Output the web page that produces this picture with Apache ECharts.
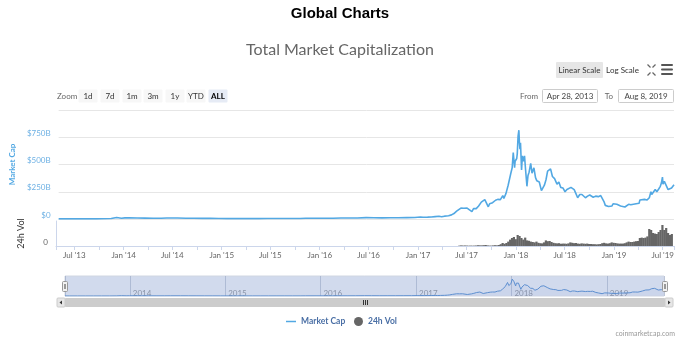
<!DOCTYPE html>
<html><head><meta charset="utf-8">
<script src="https://cdn.jsdelivr.net/npm/echarts@6/dist/echarts.min.js"></script>
<style>html,body{margin:0;padding:0;background:#fff}#c{width:680px;height:344px}</style>
</head><body><div id="c"></div>
<script>
// ---- data (market cap and 24h volume in billions USD) ----
const capDates = ['2013-04-28','2013-05-15','2013-06-15','2013-07-15','2013-08-15','2013-09-15','2013-10-15','2013-11-10','2013-11-30','2013-12-05','2013-12-18','2013-12-31',
'2014-01-15','2014-02-15','2014-03-15','2014-04-15','2014-05-15','2014-06-05','2014-07-15','2014-08-15','2014-09-15','2014-10-15','2014-11-15','2014-12-15',
'2015-01-15','2015-02-15','2015-03-15','2015-04-15','2015-05-15','2015-06-15','2015-07-15','2015-08-15','2015-09-15','2015-10-15','2015-11-05','2015-12-15',
'2016-01-15','2016-02-15','2016-03-15','2016-04-15','2016-05-15','2016-06-17','2016-07-15','2016-08-15','2016-09-15','2016-10-15','2016-11-15','2016-12-15',
'2017-01-05','2017-01-15','2017-02-01','2017-02-15','2017-03-01','2017-03-15','2017-03-25','2017-04-05','2017-04-20','2017-05-01','2017-05-10','2017-05-20','2017-05-25','2017-05-27',
'2017-06-05','2017-06-12','2017-06-16','2017-06-20','2017-06-28','2017-07-05','2017-07-16','2017-07-22','2017-08-01','2017-08-10','2017-08-20','2017-08-27',
'2017-09-02','2017-09-15','2017-09-20','2017-10-01','2017-10-12','2017-10-20','2017-10-30','2017-11-08','2017-11-12','2017-11-20','2017-11-28',
'2017-12-01','2017-12-08','2017-12-13','2017-12-17','2017-12-22','2017-12-24','2017-12-30',
'2018-01-01','2018-01-04','2018-01-07','2018-01-09','2018-01-11','2018-01-13','2018-01-17','2018-01-20','2018-01-24','2018-01-28',
'2018-02-01','2018-02-06','2018-02-10','2018-02-14','2018-02-20','2018-02-25','2018-03-04','2018-03-10','2018-03-15','2018-03-20','2018-03-24',
'2018-04-01','2018-04-06','2018-04-12','2018-04-18','2018-04-24','2018-05-05','2018-05-12','2018-05-20','2018-05-29',
'2018-06-05','2018-06-12','2018-06-20','2018-06-28','2018-07-05','2018-07-12','2018-07-20','2018-07-25',
'2018-08-01','2018-08-08','2018-08-14','2018-08-22','2018-08-30','2018-09-05','2018-09-12','2018-09-20','2018-09-28',
'2018-10-05','2018-10-11','2018-10-20','2018-10-30','2018-11-08','2018-11-14','2018-11-20','2018-11-25',
'2018-12-01','2018-12-07','2018-12-14','2018-12-20','2018-12-24','2018-12-31',
'2019-01-07','2019-01-14','2019-01-21','2019-01-28','2019-02-06','2019-02-12','2019-02-20','2019-02-28','2019-03-10','2019-03-20','2019-03-31',
'2019-04-03','2019-04-10','2019-04-20','2019-04-30','2019-05-08','2019-05-14','2019-05-17','2019-05-22','2019-05-30',
'2019-06-05','2019-06-12','2019-06-18','2019-06-22','2019-06-26','2019-06-28','2019-07-03','2019-07-08','2019-07-10','2019-07-17','2019-07-24','2019-07-30','2019-08-04','2019-08-08'];
const capValues = [1.6,1.3,1.2,1.1,1.3,1.6,1.9,4.0,13.5,14.5,7.5,10.0,
11.0,8.5,8.0,6.5,6.8,9.0,8.5,7.2,6.5,5.6,5.4,4.8,
3.5,3.7,4.3,3.6,3.7,3.9,4.8,4.4,3.9,4.3,7.0,7.1,
6.9,7.4,8.8,8.6,9.2,12.8,11.9,10.4,10.9,11.2,12.6,13.8,
18,15.5,17,18.5,22,25,20,26,30,38,50,72,90,72,
100,115,98,112,100,102,68,95,95,120,155,165,
178,112,140,150,172,180,178,215,188,235,310,
300,420,470,610,470,530,555,
600,760,815,700,640,700,450,580,530,580,
450,300,400,430,510,420,470,380,350,360,340,
260,265,310,360,440,460,390,370,320,
340,290,285,250,270,255,290,300,
270,230,195,225,225,230,195,210,220,
220,200,210,205,215,200,160,125,
135,115,105,120,140,130,
135,120,120,115,110,120,135,130,135,140,145,
175,180,180,175,195,250,225,240,270,
250,275,300,330,385,320,345,330,340,270,275,285,290,315];

const volDates = ['2017-06-04','2017-06-11','2017-06-18','2017-06-25','2017-07-02','2017-07-09','2017-07-16','2017-07-23','2017-07-30',
'2017-08-06','2017-08-13','2017-08-20','2017-08-27','2017-09-03','2017-09-10','2017-09-17','2017-09-24',
'2017-10-01','2017-10-08','2017-10-15','2017-10-22','2017-10-29','2017-11-05','2017-11-12','2017-11-19','2017-11-26',
'2017-12-03','2017-12-10','2017-12-17','2017-12-24','2017-12-31',
'2018-01-07','2018-01-14','2018-01-21','2018-01-28','2018-02-04','2018-02-11','2018-02-18','2018-02-25',
'2018-03-04','2018-03-11','2018-03-18','2018-03-25','2018-04-01','2018-04-08','2018-04-15','2018-04-22','2018-04-29',
'2018-05-06','2018-05-13','2018-05-20','2018-05-27','2018-06-03','2018-06-10','2018-06-17','2018-06-24',
'2018-07-01','2018-07-08','2018-07-15','2018-07-22','2018-07-29','2018-08-05','2018-08-12','2018-08-19','2018-08-26',
'2018-09-02','2018-09-09','2018-09-16','2018-09-23','2018-09-30','2018-10-07','2018-10-14','2018-10-21','2018-10-28',
'2018-11-04','2018-11-11','2018-11-18','2018-11-25','2018-12-02','2018-12-09','2018-12-16','2018-12-23','2018-12-30',
'2019-01-06','2019-01-13','2019-01-20','2019-01-27','2019-02-03','2019-02-10','2019-02-17','2019-02-24',
'2019-03-03','2019-03-10','2019-03-17','2019-03-24','2019-03-31','2019-04-07','2019-04-14','2019-04-21','2019-04-28',
'2019-05-05','2019-05-12','2019-05-19','2019-05-26','2019-06-02','2019-06-09','2019-06-16','2019-06-23','2019-06-30',
'2019-07-07','2019-07-14','2019-07-21','2019-07-28','2019-08-04'];
const volValues = [2,3,2,2.5,2,1.5,2,1.5,2,
2.5,4,3,3,4,5,3,2,
2,3,4,3,5,9,15,11,15,
22,32,40,45,34,
55,50,40,32,42,28,26,22,
20,18,22,16,14,13,18,28,24,
25,20,16,14,13,14,11,12,
12,11,13,18,16,14,15,12,11,
13,12,11,12,10,10,9,9,8,
9,10,14,16,13,12,14,18,16,
15,13,12,12,12,14,18,22,
20,20,22,24,25,40,42,40,42,
48,85,80,65,62,60,70,80,105,
80,90,65,55,60];

const yTickLabels = ['$0','$250B','$500B','$750B'];
const monthNames = ['Jan','Feb','Mar','Apr','May','Jun','Jul','Aug','Sep','Oct','Nov','Dec'];
const zoomButtons = ['1d','7d','1m','3m','1y','YTD','ALL'];

function ts(s){const p=s.split('-');return Date.UTC(+p[0],+p[1]-1,+p[2]);}
const capData = capDates.map((d,i)=>[ts(d),capValues[i]]);
const volData = volDates.map((d,i)=>[ts(d),volValues[i]]);
const xMin = ts('2013-04-28'), xMax = ts('2019-08-08');
const DAY = 86400000;

const F = 'Lato';
const BLUE = '#52a8e3';

function halfYearLabel(v){
  const d = new Date(v);
  if (d.getUTCDate()!==1) return '';
  const m = d.getUTCMonth();
  if (m!==0 && m!==6) return '';
  return monthNames[m]+" '"+String(d.getUTCFullYear()).slice(2);
}
function yearLabel(v){
  const d = new Date(v);
  if (d.getUTCDate()!==1 || d.getUTCMonth()!==0) return '';
  return String(d.getUTCFullYear());
}

function txt(x,y,t,st){return {type:'text',x:x,y:y,silent:true,z:10,style:Object.assign({text:t,fill:'#333',font:'8px '+F,align:'left',verticalAlign:'middle'},st||{})};}
function box(x,y,w,h,fill,stroke){return {type:'rect',silent:true,z:9,shape:{x:x,y:y,width:w,height:h,r:1},style:{fill:fill,stroke:stroke||null,lineWidth:1}};}
function seg(x1,y1,x2,y2,c,w){return {type:'line',silent:true,z:10,shape:{x1:x1,y1:y1,x2:x2,y2:y2},style:{stroke:c,lineWidth:w||1}};}

const graphics = [];
// scale buttons
graphics.push(box(556,62,47,16,'#e6e6e6'));
graphics.push(txt(579.5,70,'Linear Scale',{align:'center'}));
graphics.push(txt(622.5,70,'Log Scale',{align:'center'}));
// fullscreen icon
graphics.push(seg(647.5,64.5,650.5,67.5,'#666',1.2));
graphics.push(seg(655.5,64.5,652.5,67.5,'#666',1.2));
graphics.push(seg(647.5,75.5,650.5,72.5,'#666',1.2));
graphics.push(seg(655.5,75.5,652.5,72.5,'#666',1.2));
// hamburger
[64,68.5,73].forEach(y=>graphics.push(box(661,y,12,2,'#555')));
// zoom buttons
graphics.push(txt(57,96,'Zoom',{fill:'#666'}));
const zoomCenters = [88,110,132,153,175,196,218];
zoomButtons.forEach((b,i)=>{
  const sel = b==='ALL';
  graphics.push(box(zoomCenters[i]-9.5,89.5,19,13,sel?'#e6ebf5':'#f7f7f7'));
  graphics.push(txt(zoomCenters[i],96,b,{align:'center',fill:sel?'#000':'#333',font:(sel?'bold ':'')+'8px '+F}));
});
// From / To
graphics.push(txt(538,96,'From',{align:'right',fill:'#666'}));
graphics.push(box(542.5,89.5,55,13,'#fff','#cccccc'));
graphics.push(txt(570,96,'Apr 28, 2013',{align:'center',fill:'#444'}));
graphics.push(txt(609,96,'To',{align:'center',fill:'#666'}));
graphics.push(box(618.5,89.5,55,13,'#fff','#cccccc'));
graphics.push(txt(646,96,'Aug 8, 2019',{align:'center',fill:'#444'}));
// scrollbar
graphics.push(box(57,298,616,9,'#f2f2f2'));
graphics.push(box(65,298,600,9,'#cccccc'));
graphics.push(box(57,298,8,9,'#e6e6e6','#cccccc'));
graphics.push(box(665,298,8,9,'#e6e6e6','#cccccc'));
graphics.push({type:'polygon',silent:true,z:10,shape:{points:[[62,300.5],[62,304.5],[59.5,302.5]]},style:{fill:'#333'}});
graphics.push({type:'polygon',silent:true,z:10,shape:{points:[[668,300.5],[668,304.5],[670.5,302.5]]},style:{fill:'#333'}});
[363,365,367].forEach(x=>graphics.push(seg(x+0.5,300,x+0.5,305,'#333',1)));
// navigator handles
[[62.5],[662.5]].forEach(p=>{
  graphics.push(box(p[0],281.5,5,10,'#f2f2f2','#999999'));
  graphics.push(seg(p[0]+2,284,p[0]+2,289,'#999',1));
  graphics.push(seg(p[0]+3,284,p[0]+3,289,'#999',1));
});
// credits
graphics.push(txt(675,334,'coinmarketcap.com',{align:'right',fill:'#999',font:'7px '+F}));

const chart = echarts.init(document.getElementById('c'), null, {renderer:'canvas'});
chart.setOption({
  animation:false,
  useUTC:true,
  backgroundColor:'#fff',
  textStyle:{fontFamily:F},
  title:[
    {text:'Global Charts',left:'center',top:1,textStyle:{fontSize:15,fontWeight:'bold',color:'#000',fontFamily:'Liberation Sans'}},
    {text:'Total Market Capitalization',left:'center',top:37,textStyle:{fontSize:16,fontWeight:'normal',color:'#666',fontFamily:F}}
  ],
  legend:[
    {data:[{name:'Market Cap',icon:'rect'}],left:286,top:317,padding:0,itemWidth:10,itemHeight:1.5,textStyle:{fontSize:8.5,fontWeight:'bold',color:'#4a6fa5',fontFamily:F},selectedMode:false},
    {data:[{name:'24h Vol',icon:'circle'}],left:354,top:317,padding:0,itemWidth:9,itemHeight:9,textStyle:{fontSize:8.5,fontWeight:'bold',color:'#4a6fa5',fontFamily:F},selectedMode:false}
  ],
  grid:[
    {left:56,right:6,top:110,height:109},
    {left:56,right:6,top:221,height:25},
    {left:65,right:16,top:276,height:20,show:true,backgroundColor:'rgba(102,133,194,0.3)',borderColor:'#d0d6e2',borderWidth:1}
  ],
  xAxis:[
    {type:'time',gridIndex:0,min:xMin,max:xMax,show:false},
    {type:'time',gridIndex:1,min:xMin,max:xMax,minInterval:180*DAY,maxInterval:180*DAY,
     axisLine:{show:true,lineStyle:{color:'#ccd6eb'}},
     axisTick:{show:true,length:4,lineStyle:{color:'#ccd6eb'}},
     splitLine:{show:false},
     axisLabel:{show:true,formatter:halfYearLabel,color:'#666',fontSize:8,margin:5,fontFamily:F,hideOverlap:false,showMinLabel:true,showMaxLabel:true}},
    {type:'time',gridIndex:2,min:xMin,max:xMax,minInterval:360*DAY,maxInterval:360*DAY,
     axisLine:{show:false},axisTick:{show:false},
     splitLine:{show:true,lineStyle:{color:'rgba(110,130,170,0.35)',width:1}},
     axisLabel:{show:true,inside:true,formatter:yearLabel,color:'#8a94a8',fontSize:8,align:'left',margin:-1,fontFamily:F,padding:[0,0,0,3]}}
  ],
  yAxis:[
    {type:'value',gridIndex:0,min:0,max:1000,interval:250,
     name:'Market Cap',nameLocation:'middle',nameGap:41,nameRotate:90,
     nameTextStyle:{color:BLUE,fontSize:8,fontWeight:'bold',fontFamily:F},
     axisLine:{show:false},axisTick:{show:false},
     splitLine:{show:true,lineStyle:{color:'#e6e6e6'}},
     axisLabel:{color:'#6eb1e4',fontSize:8,margin:8,verticalAlign:'bottom',fontFamily:F,
       formatter:v=>{const i=Math.round(v/250);return i<yTickLabels.length?yTickLabels[i]:'';}}},
    {type:'value',gridIndex:1,min:0,max:125,interval:125,
     name:'24h Vol',nameLocation:'middle',nameGap:30,nameRotate:90,
     nameTextStyle:{color:'#333',fontSize:9,fontFamily:F},
     axisLine:{show:true,lineStyle:{color:'#ccd6eb'}},axisTick:{show:false},
     splitLine:{show:false},
     axisLabel:{color:'#666',fontSize:8,margin:8,verticalAlign:'bottom',fontFamily:F,formatter:v=>v===0?'0':''}},
    {type:'value',gridIndex:2,min:0,max:900,show:false}
  ],
  series:[
    {name:'Market Cap',type:'line',xAxisIndex:0,yAxisIndex:0,data:capData,symbol:'none',showSymbol:false,
     lineStyle:{color:BLUE,width:1.6},itemStyle:{color:BLUE}},
    {name:'24h Vol',type:'bar',xAxisIndex:1,yAxisIndex:1,data:volData,barWidth:2.2,itemStyle:{color:'#666'}},
    {name:'nav',type:'line',xAxisIndex:2,yAxisIndex:2,data:capData,symbol:'none',showSymbol:false,
     lineStyle:{color:'#5d8fd0',width:1},areaStyle:{color:'rgba(102,133,194,0.08)'}}
  ],
  graphic:graphics
});
</script></body></html>
